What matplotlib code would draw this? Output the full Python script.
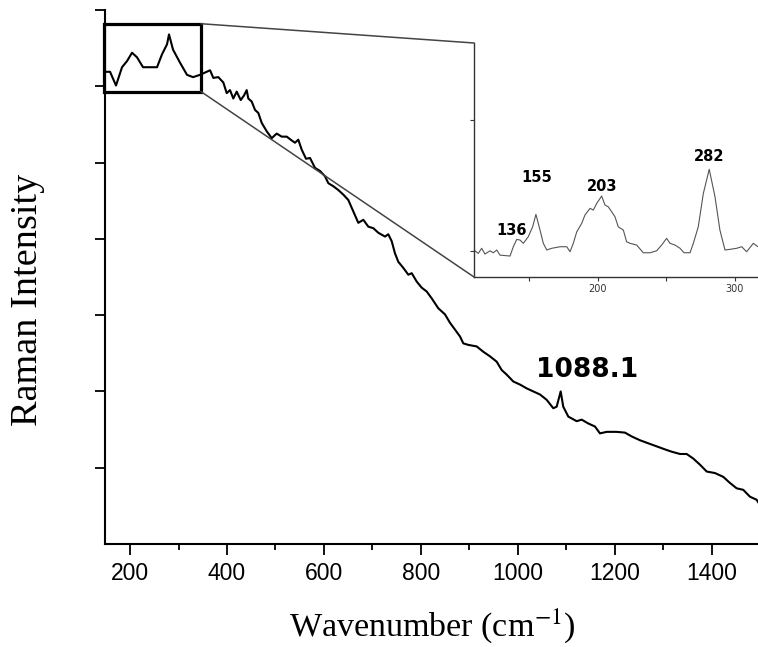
import matplotlib.pyplot as plt
from matplotlib.patches import Rectangle, ConnectionPatch

# Main spectrum (wavenumber, intensity in tick units)
wavenumber = [148.5, 158.8, 171.1, 183.5, 193.8, 204.1, 214.4, 226.8, 241.2, 255.7,
              266.0, 276.3, 280.4, 288.7, 303.1, 317.5, 329.9, 344.3, 354.7, 365.0,
              371.8, 382.1, 392.4, 399.4, 406.2, 413.0, 420.0, 428.3, 435.1, 440.6,
              443.9, 450.9, 457.8, 464.6, 471.6, 481.9, 492.2, 502.5, 512.8, 523.1,
              533.4, 540.2, 547.0, 554.0, 562.9, 571.2, 581.5, 591.8, 602.1, 608.9,
              619.2, 629.5, 639.8, 650.1, 660.4, 670.8, 681.1, 691.4, 701.7, 712.0,
              725.8, 732.6, 739.6, 746.4, 753.2, 763.5, 773.9, 780.9, 791.2, 801.5,
              811.8, 822.1, 835.7, 849.5, 859.8, 870.2, 880.5, 887.3, 897.6, 914.9,
              928.5, 942.3, 956.1, 966.5, 976.8, 990.4, 1004.2, 1018.0, 1031.6, 1045.4,
              1059.2, 1072.8, 1079.8, 1088.1, 1093.4, 1103.8, 1121.1, 1131.4, 1145.0, 1158.8,
              1169.1, 1182.9, 1203.6, 1220.7, 1234.5, 1251.6, 1268.7, 1286.0, 1303.2, 1317.0,
              1334.1, 1347.9, 1361.5, 1375.3, 1389.2, 1406.3, 1423.4, 1437.2, 1451.0, 1464.6,
              1478.4, 1492.2, 1495.0]
intensity = [6.19, 6.19, 6.01, 6.25, 6.33, 6.44, 6.38, 6.25, 6.25, 6.25,
             6.42, 6.55, 6.68, 6.48, 6.31, 6.15, 6.12, 6.15, 6.18, 6.21,
             6.11, 6.12, 6.05, 5.91, 5.95, 5.84, 5.93, 5.82, 5.88, 5.95,
             5.84, 5.80, 5.69, 5.65, 5.52, 5.41, 5.32, 5.38, 5.34, 5.34,
             5.29, 5.26, 5.30, 5.17, 5.05, 5.06, 4.93, 4.89, 4.82, 4.73,
             4.69, 4.64, 4.58, 4.51, 4.36, 4.21, 4.25, 4.16, 4.14, 4.08,
             4.03, 4.06, 3.97, 3.81, 3.70, 3.62, 3.53, 3.55, 3.44, 3.36,
             3.31, 3.22, 3.09, 3.01, 2.90, 2.81, 2.72, 2.63, 2.61, 2.59,
             2.52, 2.46, 2.39, 2.28, 2.22, 2.13, 2.09, 2.04, 2.00, 1.96,
             1.89, 1.78, 1.80, 2.00, 1.80, 1.67, 1.61, 1.63, 1.58, 1.54,
             1.45, 1.47, 1.47, 1.46, 1.41, 1.36, 1.32, 1.28, 1.24, 1.21,
             1.18, 1.18, 1.12, 1.04, 0.95, 0.93, 0.88, 0.80, 0.73, 0.71,
             0.62, 0.58, 0.55]

# Inset (zoom of the low wavenumber region)
inset_wn = [109.5, 112.6, 115.1, 117.5, 121.2, 123.6, 126.1, 128.5, 135.8, 138.2,
            140.7, 143.1, 145.5, 149.1, 152.3, 154.7, 157.7, 160.1, 162.6, 166.2,
            172.3, 177.2, 179.6, 182.0, 184.5, 188.1, 190.5, 194.2, 196.6, 199.1,
            202.7, 205.1, 207.5, 210.0, 212.4, 214.8, 218.5, 220.9, 223.4, 228.2,
            233.1, 238.0, 242.8, 246.5, 250.1, 252.6, 256.2, 259.9, 262.8, 267.2,
            269.6, 273.2, 276.9, 281.2, 285.4, 289.0, 292.7, 296.3, 301.2, 304.9,
            308.5, 313.4, 316.8]
inset_int = [0.008, -0.018, 0.021, -0.023, 0.002, -0.013, 0.008, -0.031, -0.038, 0.033,
             0.089, 0.084, 0.059, 0.109, 0.185, 0.280, 0.160, 0.059, 0.008, 0.021,
             0.033, 0.033, -0.005, 0.059, 0.147, 0.211, 0.275, 0.326, 0.313, 0.364,
             0.420, 0.351, 0.338, 0.300, 0.262, 0.185, 0.160, 0.071, 0.059, 0.046,
             -0.013, -0.013, 0.002, 0.046, 0.097, 0.059, 0.046, 0.021, -0.013, -0.013,
             0.059, 0.185, 0.440, 0.624, 0.415, 0.160, 0.008, 0.013, 0.021, 0.033,
             -0.005, 0.059, 0.033]

peak_labels = ['136', '155', '203', '282']
peak_label_x = [137, 155.5, 203, 281]
peak_label_y = [0.16, 0.565, 0.49, 0.72]

plt.rcParams['mathtext.fontset'] = 'stix'

fig = plt.figure(figsize=(7.58, 6.47), dpi=100)
ax = fig.add_axes([105/758, 103/647, 653/758, 534/647])

ax.plot(wavenumber, intensity, color='black', lw=1.5)
ax.set_xlim(148.4, 1495)
ax.set_ylim(0, 7)
ax.set_xticks(range(200, 1401, 200))
ax.set_xticks(range(300, 1500, 200), minor=True)
ax.set_yticks(range(1, 8))
ax.set_yticklabels([])
for s in ['top', 'right']:
    ax.spines[s].set_visible(False)
for s in ['left', 'bottom']:
    ax.spines[s].set_linewidth(1.5)
ax.tick_params(axis='x', which='major', length=8, width=1.3, pad=5,
               labelsize=16.5, labelfontfamily='Liberation Sans')
ax.tick_params(axis='x', which='minor', length=4.5, width=1.3)
ax.tick_params(axis='y', length=7, width=1.3)

ax.text(1142, 2.28, '1088.1', fontsize=19, fontweight='bold', ha='center', va='center',
        family='DejaVu Sans')

fig.text(432/758, 21/647, 'Wavenumber (cm$^{\\mathrm{-1}}$)', fontsize=24.5,
         family='Liberation Serif', ha='center', va='center')
fig.text(28/758, 347/647, 'Raman Intensity', fontsize=27.5, rotation=90,
         family='Liberation Serif', ha='center', va='center')

# box marking the zoomed region
ax.add_patch(Rectangle((146.4, 5.93), 200, 0.89, fill=False, lw=2.3,
                       edgecolor='black', clip_on=False, zorder=5))

# inset
axin = fig.add_axes([474/758, 370/647, 284/758, 234/647])
axin.plot(inset_wn, inset_int, color='#555555', lw=0.8)
axin.set_xlim(109.5, 316.8)
axin.set_ylim(-0.198, 1.588)
axin.set_xticks([150, 200, 250, 300])
axin.set_xticklabels(['', '200', '', '300'])
axin.set_yticks([0, 1])
axin.set_yticklabels([])
for s in ['top', 'right']:
    axin.spines[s].set_visible(False)
for s in ['left', 'bottom']:
    axin.spines[s].set_linewidth(1.0)
    axin.spines[s].set_color('#333333')
axin.tick_params(length=3, width=0.8, color='#333333', labelsize=7, pad=2,
                 labelcolor='#333333')
for lab, lx, ly in zip(peak_labels, peak_label_x, peak_label_y):
    axin.text(lx, ly, lab, fontsize=10.5, fontweight='bold', ha='center',
              va='center', family='DejaVu Sans')

# connector lines from the box to the inset
for yb, yi in [(6.82, 1), (5.93, 0)]:
    con = ConnectionPatch(xyA=(346.4, yb), coordsA=ax.transData,
                          xyB=(0, yi), coordsB=axin.transAxes,
                          color='#444444', lw=1.1)
    fig.add_artist(con)

fig.savefig('out.png', dpi=100)
